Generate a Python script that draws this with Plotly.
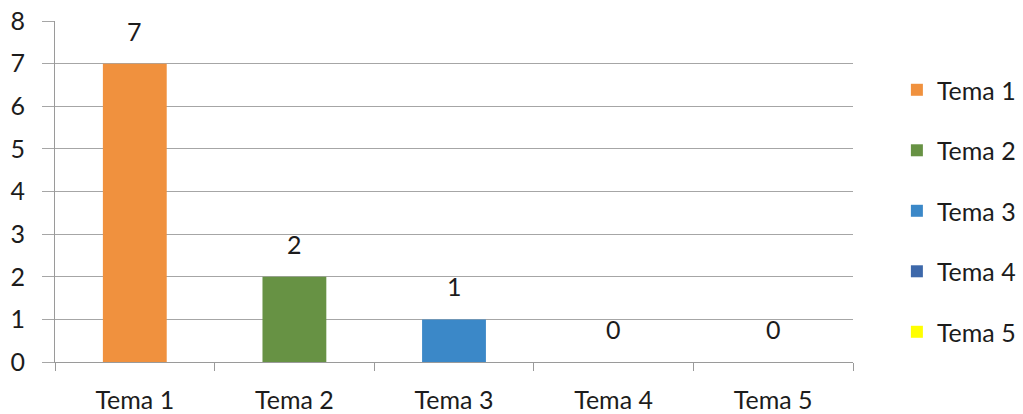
import plotly.graph_objects as go

categories = ["Tema 1", "Tema 2", "Tema 3", "Tema 4", "Tema 5"]
values = [7, 2, 1, 0, 0]
colors = ["#F0913E", "#679244", "#3B88C8", "#3D68AA", "#FFFF00"]
y_ticks = [0, 1, 2, 3, 4, 5, 6, 7, 8]

FONT = "Lato, 'Open Sans', sans-serif"
TEXT = "#1c1c1c"
SIZE = 25

fig = go.Figure()
for i, (cat, val, col) in enumerate(zip(categories, values, colors)):
    fig.add_trace(go.Bar(
        x=[cat], y=[val], name=cat,
        marker=dict(color=col, line=dict(width=0)),
        width=0.4,
        legendgroup=f"g{i}",
    ))
    fig.add_annotation(
        x=cat, y=val, text=str(val), showarrow=False,
        yanchor="bottom", yshift=16,
        font=dict(family=FONT, size=SIZE, color=TEXT),
    )

fig.update_layout(
    width=1023, height=414,
    margin=dict(l=55, r=170, t=21, b=52, autoexpand=False),
    paper_bgcolor="white", plot_bgcolor="white",
    barmode="overlay",
    font=dict(family=FONT, size=SIZE, color=TEXT),
    showlegend=True,
    legend=dict(
        x=1.055, xanchor="left", y=0.865, yanchor="top",
        font=dict(family=FONT, size=SIZE, color=TEXT),
        tracegroupgap=25,
        traceorder="grouped",
        itemwidth=30,
        bgcolor="rgba(0,0,0,0)",
    ),
    xaxis=dict(
        categoryorder="array", categoryarray=categories,
        showline=True, linecolor="#9a9a9a", linewidth=1,
        ticks="outside", ticklen=8, tickcolor="#9a9a9a",
        tickson="boundaries", showgrid=False,
        tickfont=dict(family=FONT, size=SIZE, color=TEXT),
        ticklabelstandoff=16,
        automargin=False,
        fixedrange=True,
    ),
    yaxis=dict(
        range=[0, 8], tickvals=y_ticks,
        showgrid=True, gridcolor="#a6a6a6", gridwidth=1,
        showline=True, linecolor="#9a9a9a", linewidth=1,
        ticks="outside", ticklen=12, tickcolor="#a6a6a6",
        zeroline=False,
        tickfont=dict(family=FONT, size=SIZE, color=TEXT),
        ticklabelstandoff=12,
        automargin=False,
    ),
)

fig.write_html("out.html")
